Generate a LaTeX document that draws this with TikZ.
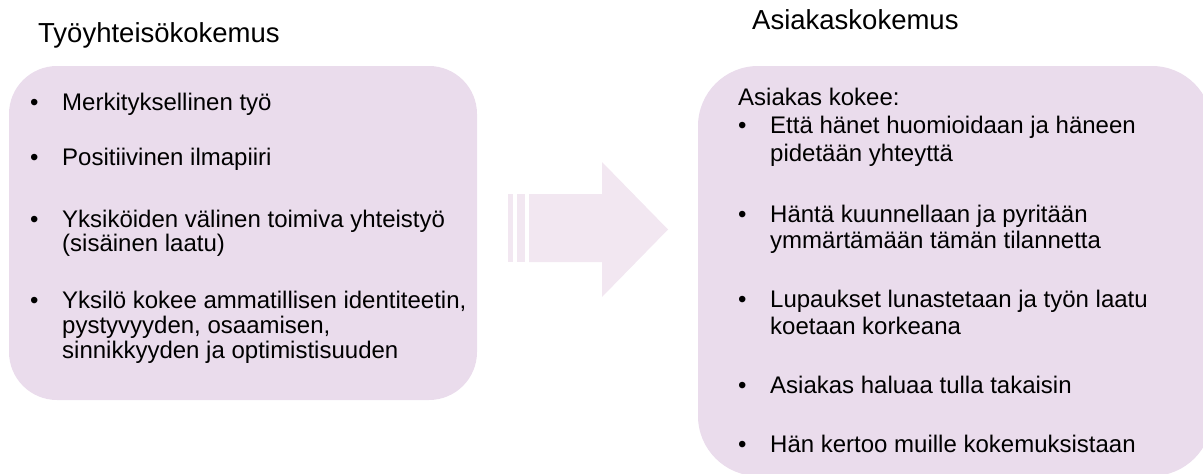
\documentclass[tikz,border=0pt]{standalone}
\usepackage{fontspec}
\setmainfont{Liberation Sans}
\usepackage{tikz}

\definecolor{boxfill}{HTML}{EADCEC}
\definecolor{arrowfill}{HTML}{F2E7F1}

\tikzset{
  box/.style={fill=boxfill, draw=none},
  head/.style={anchor=base west, inner sep=0pt, font=\fontsize{27.5}{33}\selectfont},
  item/.style={anchor=base west, inner sep=0pt, font=\fontsize{24}{28}\selectfont},
  dot/.style={anchor=base west, inner sep=0pt, font=\fontsize{24}{28}\selectfont}
}

\begin{document}
\begin{tikzpicture}[x=1pt, y=-1pt]
  \useasboundingbox (0,0) rectangle (1203,474);

  % headings
  \node[head] (hleft) at (38,42) {Työyhteisökokemus};
  \node[head] (hright) at (752,29) {Asiakaskokemus};

  % boxes
  \fill[box, rounded corners=48pt] (9,66) rectangle (477,400);
  \fill[box, rounded corners=60pt] (698,66) rectangle (1212,476);

  % arrow
  \fill[arrowfill] (508,194) rectangle (513,262);
  \fill[arrowfill] (517,194) rectangle (525,262);
  \fill[arrowfill] (529,194) -- (602,194) -- (602,162) -- (668,229.5)
    -- (602,297) -- (602,262) -- (529,262) -- cycle;

  % left items
  \node[dot] (lb1) at (30,110) {•};
  \node[item] (l1) at (62,110) {Merkityksellinen työ};
  \node[dot] (lb2) at (30,165) {•};
  \node[item] (l2) at (62,165) {Positiivinen ilmapiiri};
  \node[dot] (lb3) at (30,227) {•};
  \node[item] (l3) at (62,227) {Yksiköiden välinen toimiva yhteistyö};
  \node[item] (l3b) at (62,251) {(sisäinen laatu)};
  \node[dot] (lb4) at (30,308) {•};
  \node[item] (l4) at (62,308) {Yksilö kokee ammatillisen identiteetin,};
  \node[item] (l4b) at (62,333) {pystyvyyden, osaamisen,};
  \node[item] (l4c) at (62,358) {sinnikkyyden ja optimistisuuden};

  % right items
  \node[item] (r0) at (738,105) {Asiakas kokee:};
  \node[dot] (rb1) at (738,133) {•};
  \node[item] (r1) at (770,133) {Että hänet huomioidaan ja häneen};
  \node[item] (r1b) at (770,161) {pidetään yhteyttä};
  \node[dot] (rb2) at (738,222) {•};
  \node[item] (r2) at (770,222) {Häntä kuunnellaan ja pyritään};
  \node[item] (r2b) at (770,248) {ymmärtämään tämän tilannetta};
  \node[dot] (rb3) at (738,307) {•};
  \node[item] (r3) at (770,307) {Lupaukset lunastetaan ja työn laatu};
  \node[item] (r3b) at (770,334) {koetaan korkeana};
  \node[dot] (rb4) at (738,393) {•};
  \node[item] (r4) at (770,393) {Asiakas haluaa tulla takaisin};
  \node[dot] (rb5) at (738,452) {•};
  \node[item] (r5) at (770,452) {Hän kertoo muille kokemuksistaan};
\end{tikzpicture}
\end{document}
